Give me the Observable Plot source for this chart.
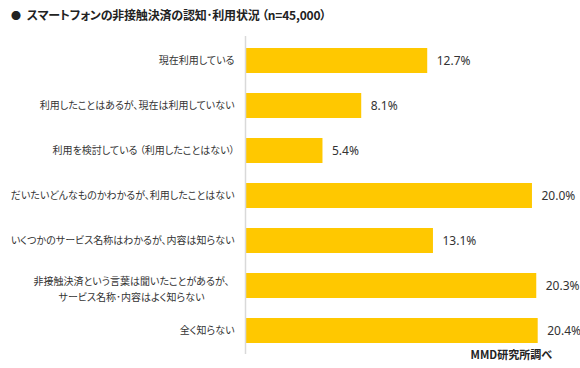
<!DOCTYPE html>
<html><head><meta charset="utf-8">
<script src="https://cdn.jsdelivr.net/npm/d3@7"></script>
<script src="https://cdn.jsdelivr.net/npm/@observablehq/plot@0.6"></script>
<style>
body{margin:0;background:#fff;font-family:"Noto Sans CJK JP",sans-serif;font-feature-settings:"palt";}
#wrap{position:relative;width:580px;height:368px;overflow:hidden;}
#title{height:30px;line-height:30px;font-size:12px;font-weight:bold;color:#222;padding-left:11px;white-space:nowrap;letter-spacing:-0.2px;}
#title .dot{font-size:10px;margin-right:6px;}
#cap{position:absolute;right:28px;top:346px;font-size:11px;font-weight:bold;color:#222;}
svg{font-feature-settings:"palt";}
</style></head>
<body><div id="wrap">
<div id="title"><span class="dot">●</span>スマートフォンの非接触決済の認知･利用状況 （n=45,000）</div>
<div id="chart"></div>
<div id="cap">MMD研究所調べ</div>
</div>
<script>
const categories = [
  "現在利用している",
  "利用したことはあるが、現在は利用していない",
  "利用を検討している （利用したことはない）",
  "だいたいどんなものかわかるが、利用したことはない",
  "いくつかのサービス名称はわかるが、内容は知らない",
  "非接触決済という言葉は聞いたことがあるが、\nサービス名称･内容はよく知らない",
  "全く知らない"
];
const values = [12.7, 8.1, 5.4, 20.0, 13.1, 20.3, 20.4];
const valueLabels = ["12.7%", "8.1%", "5.4%", "20.0%", "13.1%", "20.3%", "20.4%"];
const data = categories.map((c, i) => ({cat: c, v: values[i], lab: valueLabels[i]}));
const singleLine = categories.filter(c => !c.includes("\n"));
const multiLine = categories.filter(c => c.includes("\n"));

const chart = Plot.plot({
  width: 580,
  height: 338,
  marginLeft: 245,
  marginRight: 5,
  marginTop: 6,
  marginBottom: 14,
  style: {fontFamily: '"Noto Sans CJK JP", sans-serif', color: "#333", background: "#fff"},
  x: {domain: [0, 23], axis: null},
  y: {domain: categories, paddingInner: 0.45, paddingOuter: 0.225, label: null, axis: null},
  marks: [
    Plot.barX(data, {x: "v", y: "cat", fill: "#FFC800"}),
    Plot.ruleX([0], {stroke: "#d9d9d9", strokeWidth: 1.5}),
    Plot.axisY({ticks: singleLine, tickSize: 0, tickPadding: 11, fontSize: 10, label: null, fill: "#333"}),
    Plot.axisY({ticks: multiLine, tickSize: 0, tickPadding: 0, textAnchor: "middle", dx: -114, dy: 2, lineHeight: 1.6, fontSize: 10, label: null, fill: "#333"}),
    Plot.text(data, {x: "v", y: "cat", text: "lab", textAnchor: "start", dx: 9, fontSize: 12, fill: "#333", fontFamily: '"Noto Sans", sans-serif'})
  ]
});
document.getElementById("chart").appendChild(chart);
</script>
</body></html>
